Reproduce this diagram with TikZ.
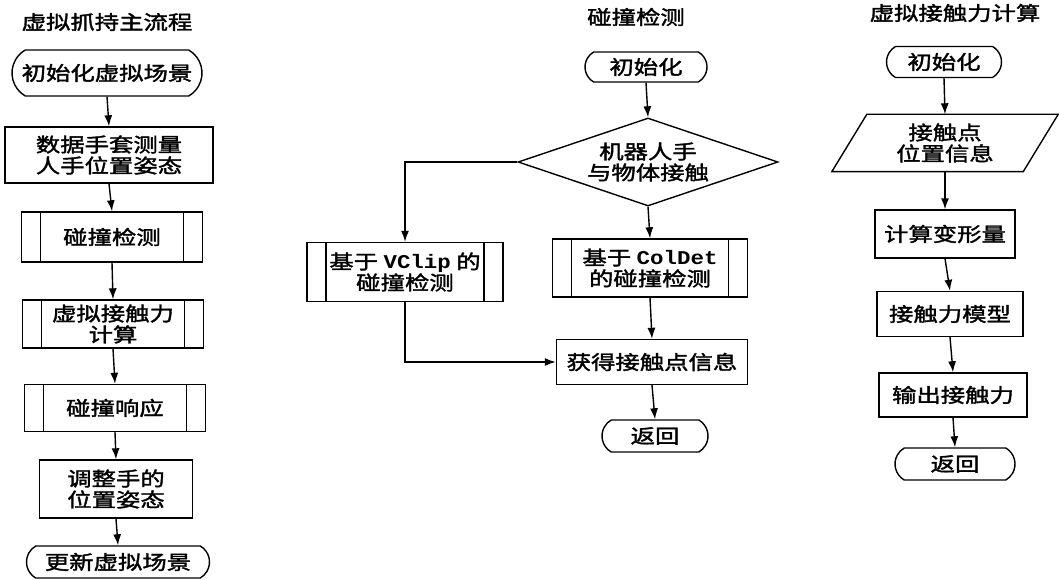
\documentclass[tikz,border=0pt]{standalone}
\usepackage{fontspec}
\newfontfamily\cjk[FakeStretch=1.25,FakeBold=1.8]{Noto Sans CJK SC}
\newfontfamily\lmono[FakeStretch=1.15]{Liberation Mono}
\usetikzlibrary{shapes.geometric,shapes.misc,arrows.meta}
\begin{document}
\begin{tikzpicture}[x=1pt,y=-1pt,
  every node/.style={font=\cjk\fontsize{19.5}{21}\selectfont, inner sep=0pt, align=center},
  base/.style={draw, line width=1.4pt},
  term/.style={base, rounded rectangle, rounded rectangle arc length=120},
  proc/.style={base, rectangle},
  sub/.style={base, rectangle, path picture={
      \draw[line width=1.4pt]
        ([xshift=19pt]path picture bounding box.north west) -- ([xshift=19pt]path picture bounding box.south west)
        ([xshift=-19pt]path picture bounding box.north east) -- ([xshift=-19pt]path picture bounding box.south east);}},
  dec/.style={base, diamond, aspect=2.95},
  arr/.style={line width=1.4pt, -{Latex[length=11pt,width=8pt]}},
]
\useasboundingbox (0,0) rectangle (1059,580);

% ---- left: main flow
\node (t1) at (107,22) {虚拟抓持主流程};
\node[term, minimum width=190, minimum height=46] (a1) at (107,73) {初始化虚拟场景};
\node[proc, minimum width=208, minimum height=56] (a2) at (109,155) {数据手套测量\\人手位置姿态};
\node[sub, minimum width=181, minimum height=50] (a3) at (112,237) {碰撞检测};
\node[sub, minimum width=181, minimum height=48] (a4) at (113,324) {虚拟接触力\\计算};
\node[sub, minimum width=181, minimum height=47] (a5) at (115,408) {碰撞响应};
\node[proc, minimum width=153, minimum height=58, align=left] (a6) at (116,489) {调整手的\\位置姿态};
\node[term, minimum width=183, minimum height=32] (a7) at (118,562) {更新虚拟场景};
\draw[arr] (a1.south) -- (a2.north);
\draw[arr] (a2.south) -- (a3.north);
\draw[arr] (a3.south) -- (a4.north);
\draw[arr] (a4.south) -- (a5.north);
\draw[arr] (a5.south) -- (a6.north);
\draw[arr] (a6.south) -- (a7.north);

% ---- middle: collision detection
\node (t2) at (636,17) {碰撞检测};
\node[term, minimum width=122, minimum height=30] (b1) at (646,67) {初始化};
\node[dec, minimum width=260, minimum height=88] (b2) at (648,162) {机器人手\\与物体接触};
\node[sub, minimum width=196, minimum height=59] (b3) at (405,272) {基于 {\lmono\bfseries VClip} 的\\碰撞检测};
\node[sub, minimum width=195, minimum height=58] (b4) at (650,268) {基于 {\lmono\bfseries ColDet}\\的碰撞检测};
\node[proc, minimum width=191, minimum height=45] (b5) at (652,362) {获得接触点信息};
\node[term, minimum width=106, minimum height=32] (b6) at (655,436) {返回};
\draw[arr] (b1.south) -- (b2.north);
\draw[arr] (b2.west) -| (b3.north);
\draw[arr] (b2.south) -- (b4.north);
\draw[arr] (b4.south) -- (b5.north);
\draw[arr] (b3.south) |- (b5.west);
\draw[arr] (b5.south) -- (b6.north);

% ---- right: virtual contact force
\node (t3) at (955,13) {虚拟接触力计算};
\node[term, minimum width=115, minimum height=31] (c1) at (944,62) {初始化};
\node[minimum width=191, minimum height=57] (c2) at (945,143) {接触点\\位置信息};
\draw[base] ([xshift=17.5pt]c2.north west) -- ([xshift=17.5pt]c2.north east)
  -- ([xshift=-17.5pt]c2.south east) -- ([xshift=-17.5pt]c2.south west) -- cycle;
\node[proc, minimum width=140, minimum height=48] (c3) at (945,234) {计算变形量};
\node[proc, minimum width=146, minimum height=45] (c4) at (950,314) {接触力模型};
\node[proc, minimum width=148, minimum height=44] (c5) at (953,395) {输出接触力};
\node[term, minimum width=120, minimum height=32] (c6) at (955,464) {返回};
\draw[arr] (c1.south) -- (c2.north);
\draw[arr] (c2.south) -- (c3.north);
\draw[arr] (c3.south) -- (c4.north);
\draw[arr] (c4.south) -- (c5.north);
\draw[arr] (c5.south) -- (c6.north);
\end{tikzpicture}
\end{document}
